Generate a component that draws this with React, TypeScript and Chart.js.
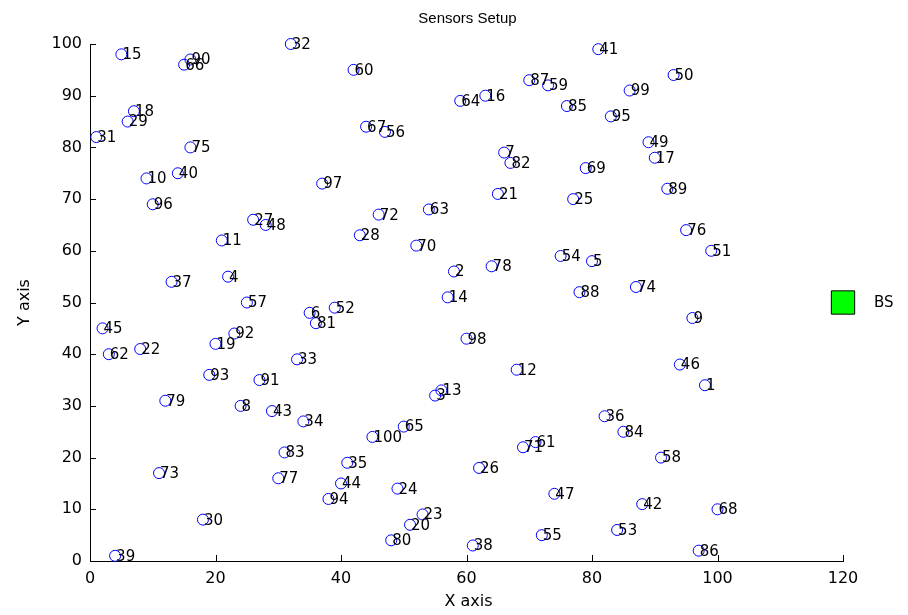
import React, { useEffect, useRef } from "react";
import { Chart, registerables } from "chart.js";

Chart.register(...registerables);

// Sensor coordinates (sensor id = index + 1)
const sensorX: number[] = [
  98, 58, 55, 22, 80, 35, 66, 24, 96, 9,
  21, 68, 56, 57, 5, 63, 90, 7, 20, 51,
  65, 8, 53, 49, 77, 62, 26, 43, 6, 18,
  1, 32, 33, 34, 41, 82, 13, 61, 4, 14,
  81, 88, 29, 40, 2, 94, 74, 28, 89, 93,
  99, 39, 84, 75, 72, 47, 25, 91, 73, 42,
  71, 3, 54, 59, 50, 15, 44, 100, 79, 52,
  69, 46, 11, 87, 16, 95, 30, 64, 12, 48,
  36, 67, 31, 85, 76, 97, 70, 78, 92, 16,
  27, 23, 19, 38, 83, 10, 37, 60, 86, 45,
];
const sensorY: number[] = [
  34, 56, 32, 55, 58, 48, 79, 30, 47, 74,
  62, 37, 33, 51, 98, 90, 78, 87, 42, 7,
  71, 41, 9, 14, 70, 18, 66, 63, 85, 8,
  82, 100, 39, 27, 19, 28, 54, 3, 1, 75,
  99, 11, 29, 15, 45, 38, 13, 65, 81, 94,
  60, 49, 6, 59, 5, 83, 50, 20, 92, 95,
  23, 40, 68, 89, 26, 96, 84, 10, 76, 61,
  22, 67, 17, 53, 80, 64, 16, 57, 31, 4,
  46, 77, 21, 25, 88, 2, 93, 52, 72, 97,
  35, 44, 36, 12, 86, 69, 73, 43, 91, 24,
];
const sensorLabels: string[] = sensorX.map((_, i) => String(i + 1));

const baseStation = { x: 120, y: 50 };
const baseLabel = "BS";

const xTicks: number[] = [0, 20, 40, 60, 80, 100, 120];
const yTicks: number[] = [0, 10, 20, 30, 40, 50, 60, 70, 80, 90, 100];

const chartTitle = "Sensors Setup";
const xTitle = "X axis";
const yTitle = "Y axis";

const FONT = "'DejaVu Sans', sans-serif";
const TITLE_FONT = "'Liberation Sans', Arial, sans-serif";

export default function App() {
  const ref = useRef<HTMLCanvasElement | null>(null);

  useEffect(() => {
    const canvas = ref.current;
    if (!canvas) return;

    const overlay = {
      id: "overlay",
      afterDraw(chart: any) {
        const ctx = chart.ctx;
        const xs = chart.scales.x;
        const ys = chart.scales.y;
        const area = chart.chartArea;
        ctx.save();
        // inward ticks
        ctx.strokeStyle = "#000";
        ctx.lineWidth = 1;
        ctx.beginPath();
        xTicks.forEach((v) => {
          const px = Math.round(xs.getPixelForValue(v)) + 0.5;
          ctx.moveTo(px, area.bottom);
          ctx.lineTo(px, area.bottom - 6);
        });
        yTicks.forEach((v) => {
          const py = Math.round(ys.getPixelForValue(v)) + 0.5;
          ctx.moveTo(area.left, py);
          ctx.lineTo(area.left + 6, py);
        });
        ctx.stroke();

        // point labels
        ctx.fillStyle = "#000";
        ctx.font = `15px ${FONT}`;
        ctx.textAlign = "left";
        ctx.textBaseline = "middle";
        sensorLabels.forEach((lab, i) => {
          const px = xs.getPixelForValue(sensorX[i]);
          const py = ys.getPixelForValue(sensorY[i]);
          ctx.fillText(lab, px + 1, py + 1);
        });
        const bx = xs.getPixelForValue(baseStation.x);
        const by = ys.getPixelForValue(baseStation.y);
        ctx.fillText(baseLabel, bx + 31, by + 1);

        // titles
        ctx.textAlign = "center";
        ctx.font = `15px ${TITLE_FONT}`;
        ctx.fillText(chartTitle, (area.left + area.right) / 2 + 1, 19);
        ctx.font = `16px ${FONT}`;
        ctx.fillText(xTitle, (area.left + area.right) / 2 + 2, 602);
        ctx.translate(25, (area.top + area.bottom) / 2);
        ctx.rotate(-Math.PI / 2);
        ctx.fillText(yTitle, 0, 0);
        ctx.restore();
      },
    };

    const chart = new Chart(canvas, {
      type: "scatter",
      data: {
        datasets: [
          {
            data: sensorX.map((x, i) => ({ x, y: sensorY[i] })),
            pointStyle: "circle",
            pointRadius: 5.5,
            pointBorderWidth: 1,
            borderColor: "#0000ff",
            backgroundColor: "rgba(0,0,0,0)",
            clip: false as any,
          },
          {
            data: [baseStation],
            pointStyle: "rect",
            pointRadius: 16.5,
            pointBorderWidth: 1,
            borderColor: "#000",
            backgroundColor: "#00ff00",
            clip: false as any,
          },
        ],
      },
      options: {
        responsive: false,
        animation: false,
        devicePixelRatio: 1,
        layout: { padding: { left: 0, top: 44, right: 65, bottom: 0 } },
        plugins: {
          legend: { display: false },
          tooltip: { enabled: false },
          title: { display: false },
        },
        scales: {
          x: {
            type: "linear",
            min: 0,
            max: 120,
            afterFit: (s: any) => {
              s.height = 54;
            },
            afterBuildTicks: (s: any) => {
              s.ticks = xTicks.map((v) => ({ value: v }));
            },
            grid: { display: false, drawTicks: false },
            border: { display: true, color: "#000", width: 1 },
            ticks: {
              color: "#000",
              font: { family: FONT, size: 16 },
              padding: 8,
              maxRotation: 0,
              autoSkip: false,
            },
          },
          y: {
            type: "linear",
            min: 0,
            max: 100,
            afterFit: (s: any) => {
              s.width = 90;
            },
            afterBuildTicks: (s: any) => {
              s.ticks = yTicks.map((v) => ({ value: v }));
            },
            grid: { display: false, drawTicks: false },
            border: { display: true, color: "#000", width: 1 },
            ticks: {
              color: "#000",
              font: { family: FONT, size: 16 },
              padding: 8,
              autoSkip: false,
            },
          },
        },
      },
      plugins: [overlay],
    });

    return () => chart.destroy();
  }, []);

  return (
    <div style={{ position: "absolute", left: 0, top: 0, width: 908, height: 615, background: "#fff" }}>
      <canvas ref={ref} width={908} height={615} />
    </div>
  );
}
